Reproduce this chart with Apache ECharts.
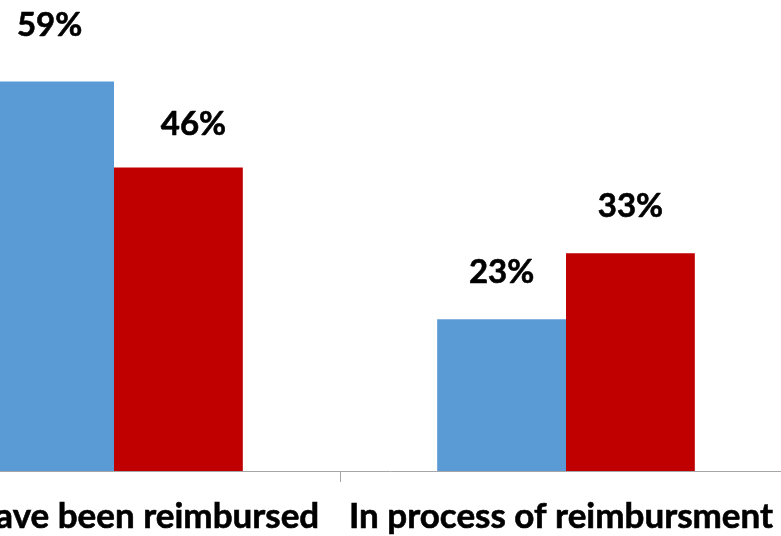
<!DOCTYPE html>
<html>
<head>
<meta charset="utf-8">
<script src="https://cdn.jsdelivr.net/npm/echarts@6/dist/echarts.min.js"></script>
<style>
  html, body { margin: 0; padding: 0; background: #ffffff; }
  #chart { width: 781px; height: 536px; }
</style>
</head>
<body>
<div id="chart"></div>
<script>
// Reimbursement status, two respondent groups
const categories = ['Have been reimbursed', 'In process of reimbursment'];
const groupA = [59, 23];   // blue series (%)
const groupB = [46, 33];   // red series (%)

const FONT = 'Lato, "Noto Sans", sans-serif';

const chart = echarts.init(document.getElementById('chart'), null, { renderer: 'canvas' });

const labelStyle = {
  show: true,
  position: 'top',
  distance: 30,
  formatter: '{c}%',
  fontFamily: FONT,
  fontWeight: 'bold',
  fontSize: 33,
  color: '#000000',
  textBorderColor: '#000000',
  textBorderWidth: 0.6
};

// hand-placed labels on the first group
const labelTweaksA = [{ distance: 40 }, null];
const labelTweaksB = [{ distance: 27, offset: [15, 0] }, null];

function withLabels(values, tweaks) {
  return values.map((v, i) => tweaks[i] ? { value: v, label: tweaks[i] } : v);
}

// category titles nudged to keep them inside the chart area
const titlePadding = [[0, 0, 0, 60], [0, 10, 0, 0]];
const axisData = categories.map((c, i) => ({ value: c, textStyle: { padding: titlePadding[i] } }));

chart.setOption({
  animation: false,
  backgroundColor: '#ffffff',
  grid: {
    left: -112, top: 9, width: 904, height: 462,
    containLabel: false,
    outerBoundsMode: 'none'
  },
  xAxis: {
    type: 'category',
    data: axisData,
    axisLine: { lineStyle: { color: '#a6a6a6', width: 1 } },
    axisTick: { show: true, length: 11, lineStyle: { color: '#a6a6a6' } },
    axisLabel: {
      interval: 0,
      margin: 28,
      fontFamily: FONT,
      fontWeight: 'bold',
      fontSize: 35,
      color: '#000000',
      textBorderColor: '#000000',
      textBorderWidth: 0.6
    }
  },
  yAxis: {
    type: 'value',
    min: 0,
    max: 70,
    show: false,
    splitLine: { show: false }
  },
  series: [
    {
      type: 'bar',
      data: withLabels(groupA, labelTweaksA),
      barGap: '0%',
      barCategoryGap: '43%',
      itemStyle: { color: '#5B9BD5' },
      label: labelStyle
    },
    {
      type: 'bar',
      data: withLabels(groupB, labelTweaksB),
      itemStyle: { color: '#C00000' },
      label: labelStyle
    }
  ]
});
</script>
</body>
</html>
